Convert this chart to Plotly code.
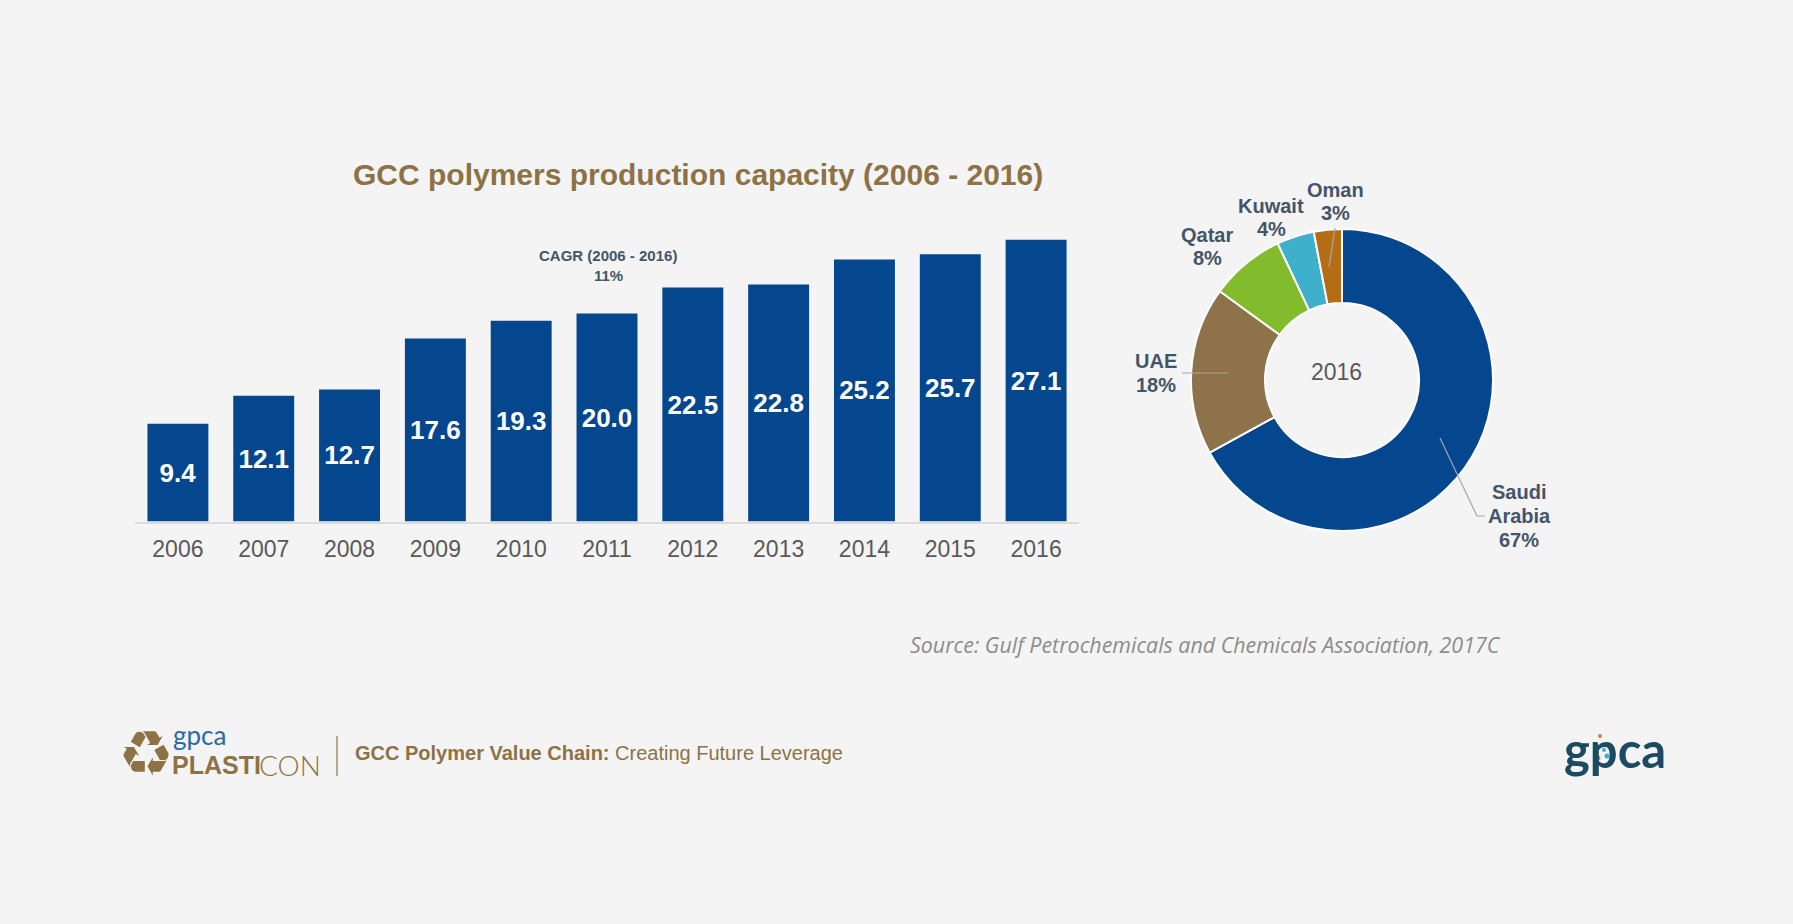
import plotly.graph_objects as go

W, H = 1793, 924

years = ["2006", "2007", "2008", "2009", "2010", "2011", "2012", "2013", "2014", "2015", "2016"]
capacity = [9.4, 12.1, 12.7, 17.6, 19.3, 20.0, 22.5, 22.8, 25.2, 25.7, 27.1]
countries = ["Saudi Arabia", "UAE", "Qatar", "Kuwait", "Oman"]
shares = [67, 18, 8, 4, 3]
slice_colors = ["#04478e", "#8e7249", "#82bc2c", "#3fb0cb", "#b56d15"]
donut_label_lines = [["Saudi", "Arabia", "67%"], ["UAE", "18%"], ["Qatar", "8%"], ["Kuwait", "4%"], ["Oman", "3%"]]

BG = "#f4f4f4"
GOLD = "#8d7246"
SLATE = "#44546a"
GREY = "#595959"
SANS = "Liberation Sans"


def px(x):
    return x / W


def py(y):
    return 1 - y / H


fig = go.Figure()

fig.add_trace(go.Bar(
    x=years, y=capacity, marker=dict(color="#04478e", line=dict(width=0)),
    texttemplate="%{y:.1f}", textposition="inside", insidetextanchor="middle", textangle=0,
    constraintext="none",
    insidetextfont=dict(family=SANS, size=26, color="white", weight="bold"),
    hoverinfo="x+y", showlegend=False,
))

fig.add_trace(go.Pie(
    labels=countries, values=shares, sort=False, direction="clockwise", rotation=0,
    hole=0.51, textinfo="none", showlegend=False,
    marker=dict(colors=slice_colors, line=dict(color="white", width=2)),
    domain=dict(x=[px(1191), px(1493)], y=[py(531), py(229)]),
))


def note(text, x, y, size, color, weight="normal", family=SANS, italic=False, anchor="center"):
    return dict(
        text=text, x=px(x), y=py(y), xref="paper", yref="paper", showarrow=False,
        xanchor=anchor, yanchor="middle", align="center",
        font=dict(family=family, size=size, color=color, weight=weight,
                  style="italic" if italic else "normal"),
    )


annotations = [
    note("GCC polymers production capacity (2006 - 2016)", 698, 174.5, 30, GOLD, "bold"),
    note("CAGR (2006 - 2016)", 608, 256, 15, SLATE, "bold"),
    note("11%", 608, 275.5, 15, SLATE, "bold"),
    note("2016", 1336, 372, 23, GREY),
    note("Source: Gulf Petrochemicals and Chemicals Association, 2017C", 908, 644, 21.4,
         "#8c8c8c", family="Open Sans", italic=True, anchor="left"),
    note("<b>GCC Polymer Value Chain:</b> Creating Future Leverage", 353, 753, 20, GOLD, anchor="left"),
    note("\u267b", 146, 753, 62, GOLD, family="DejaVu Sans"),
    note("gpca", 171, 735, 26, "#2a6aa8", family="Lato", anchor="left"),
    note("PLASTI", 170, 765, 25, GOLD, "bold", anchor="left"),
    note("CON", 257, 765, 28, GOLD, 300, family="Lato", anchor="left"),
    note("gpca", 1562, 749, 49, "#1b4a63", "bold", family="Lato", anchor="left"),
]

label_x = [1519, 1156, 1207, 1271, 1335]
label_y = [[492, 516, 540], [361, 385], [235, 258], [206, 229], [190, 213]]
for lines, lx, ys in zip(donut_label_lines, label_x, label_y):
    for line, ly in zip(lines, ys):
        annotations.append(note(line, lx, ly, 20, SLATE, "bold"))


def seg(pts, color="#a6a6a6", width=1.2):
    d = "M " + " L ".join(f"{px(a)} {py(b)}" for a, b in pts)
    return dict(type="path", path=d, xref="paper", yref="paper", line=dict(color=color, width=width))


def dot(x, y, r, color):
    return dict(type="circle", xref="paper", yref="paper", x0=px(x - r), x1=px(x + r),
                y0=py(y + r), y1=py(y - r), fillcolor=color, line=dict(width=0))


shapes = [
    seg([(1335, 228), (1329, 267)]),
    seg([(1182, 373), (1228, 373)]),
    seg([(1440, 438), (1477, 516), (1485, 516)]),
    seg([(337, 736), (337, 776)], GOLD, 1.2),
    dot(1600, 736, 2, "#c8843a"),
    dot(1604, 750, 2, "#3fb0cb"),
    dot(1598, 758, 2.5, "#c8843a"),
    dot(1603, 758, 2.5, "#f4f4f4"),
    dot(1607, 756, 2.5, "#3fb0cb"),
]

fig.update_layout(
    width=W, height=H, autosize=False,
    margin=dict(l=0, r=0, t=0, b=0),
    paper_bgcolor=BG, plot_bgcolor=BG,
    bargap=0.29,
    xaxis=dict(
        domain=[px(135), px(1079)], type="category", showgrid=False, zeroline=False,
        showline=True, linecolor="#dcdcdc", linewidth=1.5,
        ticks="outside", ticklen=6, tickcolor="rgba(0,0,0,0)",
        tickfont=dict(family=SANS, size=23, color=GREY),
    ),
    yaxis=dict(
        domain=[py(521.5), py(209.5)], range=[0, 30], visible=False, showgrid=False, zeroline=False,
    ),
    annotations=annotations,
    shapes=shapes,
)

fig.write_html("out.html", config=dict(displayModeBar=False),
               post_script="document.body.style.margin='0';")
